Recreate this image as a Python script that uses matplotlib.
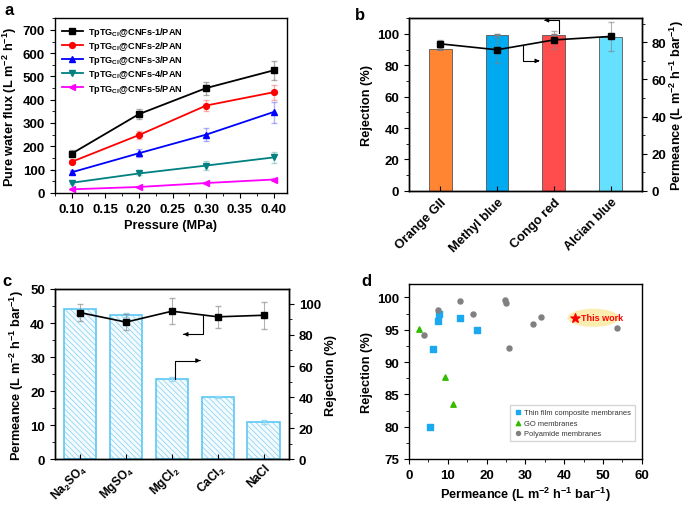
import numpy as np
import matplotlib
matplotlib.use('Agg')
import matplotlib.pyplot as plt
from matplotlib.patches import Ellipse
from matplotlib.ticker import AutoMinorLocator, MultipleLocator

plt.rcParams['font.family'] = ['Liberation Sans', 'DejaVu Sans']
plt.rcParams['font.weight'] = 'bold'
plt.rcParams['axes.labelweight'] = 'bold'
plt.rcParams['mathtext.fontset'] = 'custom'
plt.rcParams['mathtext.rm'] = 'Liberation Sans:bold'
plt.rcParams['mathtext.bf'] = 'Liberation Sans:bold'
plt.rcParams['mathtext.default'] = 'bf'
plt.rcParams['axes.linewidth'] = 1.0
plt.rcParams['xtick.labelsize'] = 9.5
plt.rcParams['ytick.labelsize'] = 9.5
plt.rcParams['hatch.linewidth'] = 0.5
plt.rcParams['axes.labelpad'] = 3

LABEL_FS = 9.2

# ── Panel a data ──────────────────────────────────────────────────────────────
pressure = [0.10, 0.20, 0.30, 0.40]
flux_names = ['TpTG$_{Cl}$@CNFs-1/PAN', 'TpTG$_{Cl}$@CNFs-2/PAN', 'TpTG$_{Cl}$@CNFs-3/PAN',
              'TpTG$_{Cl}$@CNFs-4/PAN', 'TpTG$_{Cl}$@CNFs-5/PAN']
flux_1 = [168, 338, 450, 526]
flux_2 = [133, 248, 375, 432]
flux_3 = [88, 170, 250, 347]
flux_4 = [43, 83, 117, 152]
flux_5 = [15, 25, 42, 57]
err_1 = [15, 20, 28, 40]
err_2 = [10, 18, 25, 32]
err_3 = [8, 18, 28, 45]
err_4 = [5, 8, 18, 22]
err_5 = [3, 5, 5, 6]

# ── Panel b data ──────────────────────────────────────────────────────────────
dyes = ['Orange GII', 'Methyl blue', 'Congo red', 'Alcian blue']
dye_rej = [90.5, 99.5, 99.5, 98.3]
dye_rej_err = [1.0, 0.3, 0.3, 0.3]
dye_perm = [79.2, 76.0, 81.3, 83.2]
dye_perm_err = [2.0, 7.0, 5.0, 8.0]

# ── Panel c data ──────────────────────────────────────────────────────────────
salts = ['Na$_2$SO$_4$', 'MgSO$_4$', 'MgCl$_2$', 'CaCl$_2$', 'NaCl']
salt_perm = [44.0, 42.3, 23.5, 18.3, 11.0]
salt_perm_err = [0.5, 0.5, 0.6, 0.3, 0.6]
salt_rej = [94.3, 88.2, 95.2, 91.6, 92.6]
salt_rej_err = [5.7, 5.0, 8.4, 7.0, 8.6]

# ── Panel d data ──────────────────────────────────────────────────────────────
tfc_x = [5.3, 6.3, 7.5, 7.8, 13.2, 17.6]
tfc_y = [80.0, 92.0, 96.4, 97.4, 96.8, 95.0]
go_x = [2.6, 9.4, 11.3]
go_y = [95.1, 87.7, 83.5]
pa_x = [4.0, 7.4, 13.2, 16.5, 24.8, 25.1, 25.7, 32.0, 34.0, 53.6]
pa_y = [94.2, 98.1, 99.5, 97.5, 99.6, 99.1, 92.1, 95.9, 97.0, 95.2]
this_x = [42.7]
this_y = [96.8]

fig = plt.figure(figsize=(6.85, 5.06), dpi=100)

# ── a ────────────────────────────────────────────────────────────────────────
ax = fig.add_axes([0.080, 0.617, 0.339, 0.345])
colors_a = ['black', 'red', 'blue', '#008080', 'magenta']
markers_a = ['s', 'o', '^', 'v', '<']
for vals, errs, c, m, name in zip([flux_1, flux_2, flux_3, flux_4, flux_5],
                                  [err_1, err_2, err_3, err_4, err_5],
                                  colors_a, markers_a, flux_names):
    ax.errorbar(pressure, vals, yerr=errs, fmt='none', ecolor=c, alpha=0.3,
                elinewidth=1, capsize=2.5)
    ax.plot(pressure, vals, color=c, marker=m, ms=4.2, lw=1.3, label=name)
ax.set_xlim(0.075, 0.42)
ax.set_ylim(0, 750)
ax.set_xticks([0.10, 0.15, 0.20, 0.25, 0.30, 0.35, 0.40])
ax.set_yticks(range(0, 701, 100))
ax.yaxis.set_minor_locator(AutoMinorLocator(2))
ax.xaxis.set_minor_locator(AutoMinorLocator(2))
ax.set_xlabel('Pressure (MPa)', fontsize=LABEL_FS)
ax.set_ylabel('Pure water flux (L m$^{-2}$ h$^{-1}$)', fontsize=LABEL_FS)
ax.legend(loc='upper left', frameon=False, fontsize=6.6, handlelength=2.3,
          labelspacing=0.12, borderaxespad=0.35, handletextpad=0.6)
fig.text(0.006, 0.995, 'a', fontsize=12, fontweight='bold', va='top')

# ── b ────────────────────────────────────────────────────────────────────────
bx = fig.add_axes([0.597, 0.621, 0.340, 0.341])
bar_colors = ['#FF8533', '#00AAF0', '#FF4C4C', '#66E0FF']
xb = np.arange(len(dyes))
bx.bar(xb, dye_rej, width=0.4, color=bar_colors, edgecolor='#555555', linewidth=0.6)
bx.errorbar(xb, dye_rej, yerr=dye_rej_err, fmt='none', ecolor='gray', elinewidth=0.8, capsize=2)
bx.set_ylim(0, 110)
bx.set_xlim(-0.55, 3.55)
bx.set_yticks(range(0, 101, 20))
bx.yaxis.set_minor_locator(AutoMinorLocator(2))
bx.set_xticks(xb)
bx.tick_params(axis='x', direction='in')
bx.set_xticklabels(dyes, rotation=45, ha='right', rotation_mode='anchor', fontsize=9.3)
bx.set_ylabel('Rejection (%)', fontsize=LABEL_FS)
bx2 = bx.twinx()
bx2.errorbar(xb, dye_perm, yerr=dye_perm_err, fmt='none', ecolor='gray', alpha=0.6,
             elinewidth=0.8, capsize=2.5)
bx2.plot(xb, dye_perm, color='black', marker='s', ms=4, lw=1.2)
bx2.set_ylim(0, 93)
bx2.set_yticks(range(0, 81, 20))
bx2.yaxis.set_minor_locator(AutoMinorLocator(2))
bx2.set_ylabel('Permeance (L m$^{-2}$ h$^{-1}$ bar$^{-1}$)', fontsize=LABEL_FS, labelpad=1)
bx.plot([1.45, 1.45, 1.70], [92.4, 82.8, 82.8], color='black', lw=0.8)
bx.annotate('', xy=(1.75, 82.8), xytext=(1.68, 82.8),
            arrowprops=dict(arrowstyle='-|>', color='black', lw=0.8, mutation_scale=6))
bx.plot([2.1, 2.1, 1.88], [100.8, 108.7, 108.7], color='black', lw=0.8)
bx.annotate('', xy=(1.83, 108.7), xytext=(1.9, 108.7),
            arrowprops=dict(arrowstyle='-|>', color='black', lw=0.8, mutation_scale=6),
            annotation_clip=False)
fig.text(0.518, 0.985, 'b', fontsize=12, fontweight='bold', va='top')

# ── c ────────────────────────────────────────────────────────────────────────
cx = fig.add_axes([0.080, 0.090, 0.342, 0.337])
xc = np.arange(len(salts))
cx.bar(xc, salt_perm, width=0.71, color='#F4FBFE', edgecolor='#7FCFF0', hatch='\\\\\\\\\\\\',
       linewidth=0)
cx.bar(xc, salt_perm, width=0.71, color='none', edgecolor='#5CC8F5', linewidth=1.2)
cx.errorbar(xc, salt_perm, yerr=salt_perm_err, fmt='none', ecolor='#9AD9F5',
            elinewidth=0.8, capsize=2)
cx.set_xlim(-0.55, 4.55)
cx.set_ylim(0, 50)
cx.set_yticks(range(0, 51, 10))
cx.yaxis.set_minor_locator(AutoMinorLocator(2))
cx.set_xticks(xc)
cx.tick_params(axis='x', direction='in', pad=1.5)
cx.set_xticklabels(salts, rotation=45, ha='right', rotation_mode='anchor', fontsize=8.6)
cx.set_ylabel('Permeance (L m$^{-2}$ h$^{-1}$ bar$^{-1}$)', fontsize=LABEL_FS)
cx2 = cx.twinx()
cx2.errorbar(xc, salt_rej, yerr=salt_rej_err, fmt='none', ecolor='gray', alpha=0.6,
             elinewidth=0.8, capsize=2.5)
cx2.plot(xc, salt_rej, color='black', marker='s', ms=4, lw=1.2)
cx2.set_ylim(0, 109.5)
cx2.set_yticks(range(0, 101, 20))
cx2.yaxis.set_minor_locator(AutoMinorLocator(2))
cx2.set_ylabel('Rejection (%)', fontsize=LABEL_FS)
cx.plot([2.68, 2.68, 2.32], [42.3, 36.7, 36.7], color='black', lw=0.8)
cx.annotate('', xy=(2.25, 36.7), xytext=(2.33, 36.7),
            arrowprops=dict(arrowstyle='-|>', color='black', lw=0.8, mutation_scale=6))
cx.plot([2.07, 2.07, 2.55], [23.6, 29.0, 29.0], color='black', lw=0.8)
cx.annotate('', xy=(2.62, 29.0), xytext=(2.54, 29.0),
            arrowprops=dict(arrowstyle='-|>', color='black', lw=0.8, mutation_scale=6))
fig.text(0.003, 0.458, 'c', fontsize=12, fontweight='bold', va='top')

# ── d ────────────────────────────────────────────────────────────────────────
dx = fig.add_axes([0.597, 0.091, 0.340, 0.346])
dx.scatter(tfc_x, tfc_y, marker='s', s=13, color='#1AA8F0', label='Thin film composite membranes')
dx.scatter(go_x, go_y, marker='^', s=15, color='#33BB00', label='GO membranes')
dx.scatter(pa_x, pa_y, marker='o', s=13, color='#808080', label='Polyamide membranes')
dx.add_patch(Ellipse((47.5, 96.85), 13.3, 2.8, color='#FBECB0', zorder=1, lw=0))
dx.scatter(this_x, this_y, marker='*', s=45, color='red', zorder=3)
dx.text(44.2, 96.85, 'This work', color='red', fontsize=6.5, fontweight='bold',
        va='center', ha='left', zorder=3)
dx.set_xlim(0, 60)
dx.set_ylim(75, 102.1)
dx.xaxis.set_major_locator(MultipleLocator(10))
dx.xaxis.set_minor_locator(AutoMinorLocator(2))
dx.yaxis.set_major_locator(MultipleLocator(5))
dx.yaxis.set_minor_locator(AutoMinorLocator(2))
dx.set_xlabel('Permeance (L m$^{-2}$ h$^{-1}$ bar$^{-1}$)', fontsize=LABEL_FS)
dx.set_ylabel('Rejection (%)', fontsize=LABEL_FS)
leg = dx.legend(loc='lower right', bbox_to_anchor=(0.985, 0.08), frameon=True, fancybox=False,
                edgecolor='#CCCCCC', handletextpad=0.2, borderpad=0.5, markerscale=0.8,
                labelspacing=0.45, handlelength=1.2, prop={'weight': 'normal', 'size': 5.4})
for t in leg.get_texts():
    t.set_color('#333333')
fig.text(0.528, 0.458, 'd', fontsize=12, fontweight='bold', va='top')

plt.savefig('out.png', dpi=100)
plt.close()
